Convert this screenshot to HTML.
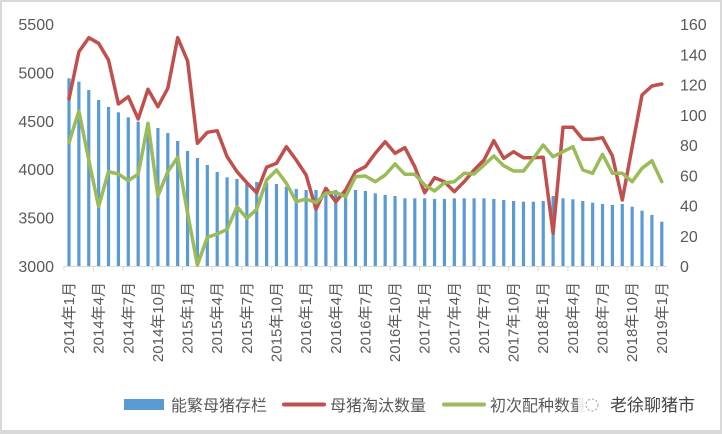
<!DOCTYPE html>
<html><head><meta charset="utf-8"><style>
html,body{margin:0;padding:0;background:#fff}
#w{position:relative;width:722px;height:434px;box-sizing:border-box;border:2px solid #d9d9d9;border-bottom-width:4px;overflow:hidden}
svg{position:absolute;left:-2px;top:-2px}
text{font-family:"Liberation Sans","Noto Sans CJK SC",sans-serif;fill:#595959}
</style></head><body><div id="w">
<svg id="s" width="722" height="434" viewBox="0 0 722 434"></svg>
</div>
<script>
var bars=[78.3,81.7,90,100,107,112.3,117.3,121.7,124,128,133,141,151,158,165,172,177.3,179,182.7,182,182.7,184,186.7,189,190,190,190,190,190,190,191,193.3,195,196,198.3,198.3,198.3,199,199,198.3,198.3,198.3,198.3,199,200,201,201.7,201.7,201,196,198.3,199.3,201,202.7,204,205,204,206.7,210.7,215,221.7];
var red=[297,155,113,130,180,312,290,357,268,320,265,113,183,430,397,392,470,515,548,578,502,490,440,480,525,628,565,605,570,515,500,460,425,460,443,500,578,533,545,575,545,510,480,422,475,455,473,473,472,700,382,382,418,418,413,468,600,440,285,258,252];
var grn=[428,333,480,620,515,522,542,522,370,588,515,472,640,795,712,702,688,620,655,628,540,510,550,605,597,608,580,577,590,530,528,545,525,492,523,523,555,573,548,545,520,522,495,468,497,513,513,475,435,470,455,440,510,520,463,520,520,545,505,482,545];
var s='';
function X(i){return 69+i*9.88;}
// axis
s+='<line x1="64" y1="266.5" x2="667" y2="266.5" stroke="#d9d9d9" stroke-width="1"/>';
for(var k=0;k<=21;k++){var tx=64+k*29.64;s+='<line x1="'+tx+'" y1="266" x2="'+tx+'" y2="271" stroke="#d9d9d9"/>';}
var L=[5500,5000,4500,4000,3500,3000];
for(var k=0;k<6;k++){var y=24+k*48.4;s+='<text x="54" y="'+(y+6)+'" font-size="16" text-anchor="end">'+L[k]+'</text>';}
for(var k=0;k<=8;k++){var v=160-k*20;var y=24+k*30.25;s+='<text x="680" y="'+(y+6)+'" font-size="16">'+v+'</text>';}
for(var i=0;i<61;i++){s+='<rect x="'+(X(i)-1.6)+'" y="'+bars[i]+'" width="3.2" height="'+(266-bars[i])+'" fill="#5b9bd5"/>';}
function P(a){return a.map(function(v,i){return X(i).toFixed(1)+','+(v/3).toFixed(1)}).join(' ');}
s+='<polyline points="'+P(red)+'" fill="none" stroke="#c0504d" stroke-width="3.5" stroke-linejoin="round" stroke-linecap="round"/>';
s+='<polyline points="'+P(grn)+'" fill="none" stroke="#9bbb59" stroke-width="3.5" stroke-linejoin="round" stroke-linecap="round"/>';
for(var k=0;k<21;k++){var m=k*3;var yr=2014+Math.floor(m/12);var mo=m%12+1;var x=X(m)+5;
s+='<text transform="translate('+x+',282) rotate(-90)" font-size="15" text-anchor="end">'+yr+'年'+mo+'月</text>';}
s+='<rect x="124" y="399" width="40" height="11" fill="#5b9bd5"/>';
s+='<text x="171" y="411" font-size="16">能繁母猪存栏</text>';
s+='<line x1="284" y1="404.5" x2="324" y2="404.5" stroke="#c0504d" stroke-width="4" stroke-linecap="round"/>';
s+='<text x="330" y="411" font-size="16">母猪淘汰数量</text>';
s+='<line x1="444" y1="404.5" x2="484" y2="404.5" stroke="#9bbb59" stroke-width="4" stroke-linecap="round"/>';
s+='<text x="490" y="411" font-size="16">初次配种数量</text>';
s+='<rect x="578" y="392" width="124" height="24" fill="#fff" opacity="0.85"/>';
s+='<circle cx="592" cy="405" r="6" fill="none" stroke="#999" stroke-dasharray="2,2"/>';
s+='<text x="610" y="411" font-size="17" style="fill:#444">老徐聊猪市</text>';
document.getElementById('s').innerHTML=s;
</script>
</body></html>
